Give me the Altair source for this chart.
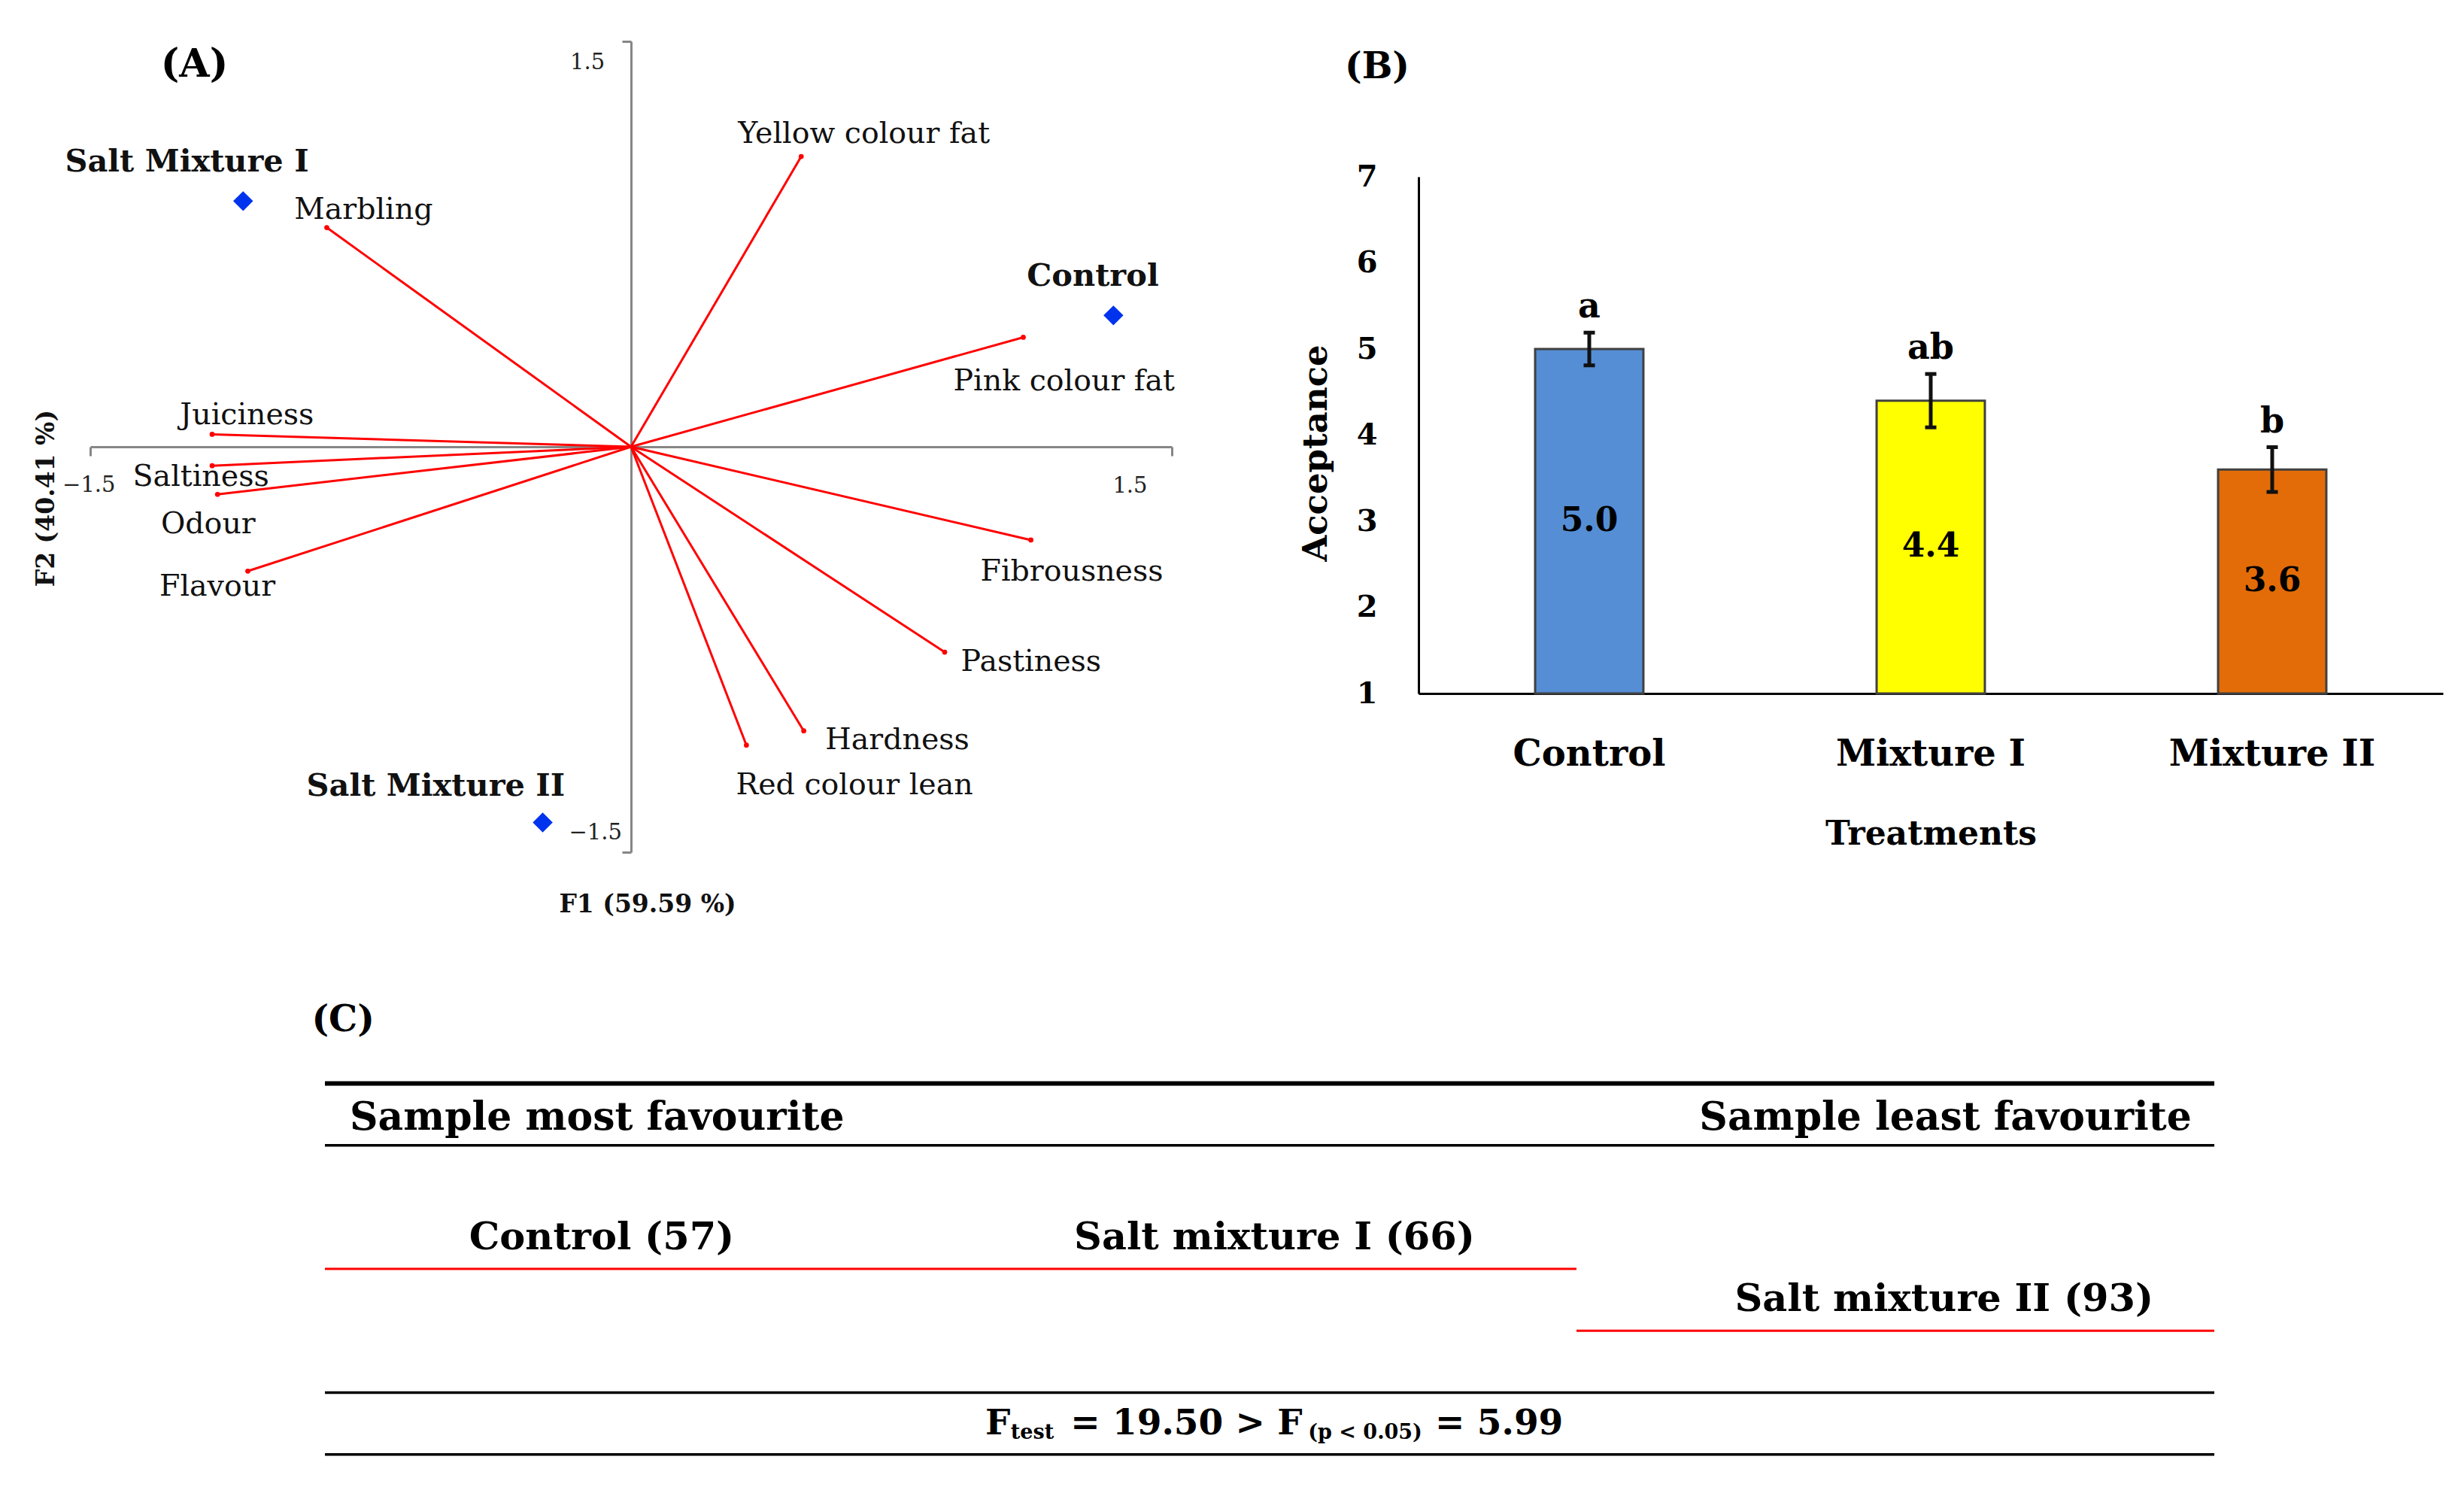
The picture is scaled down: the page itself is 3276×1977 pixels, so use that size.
import altair as alt
import pandas as pd

FONT = "DejaVu Serif"
GREY = "#868686"
INK = "#111111"

# ---------------- Panel A: PCA biplot ----------------
attr_names = ["Marbling", "Yellow colour fat", "Pink colour fat", "Juiciness", "Saltiness",
              "Odour", "Flavour", "Fibrousness", "Pastiness", "Hardness", "Red colour lean"]
attr_f1 = [-0.844, 0.472, 1.088, -1.162, -1.162, -1.147, -1.063, 1.109, 0.870, 0.479, 0.320]
attr_f2 = [0.811, 1.074, 0.405, 0.046, -0.070, -0.176, -0.460, -0.345, -0.760, -1.051, -1.104]
attr_lab_f1 = [-0.934, 0.297, 0.894, -1.251, -1.382, -1.304, -1.308, 0.969, 0.915, 0.539, 0.291]
attr_lab_f2 = [0.877, 1.159, 0.241, 0.116, -0.110, -0.288, -0.519, -0.461, -0.797, -1.085, -1.251]

obs_names = ["Control", "Salt Mixture I", "Salt Mixture II"]
obs_f1 = [1.338, -1.076, -0.245]
obs_f2 = [0.486, 0.909, -1.390]
obs_lab_f1 = [1.098, -1.570, -0.900]
obs_lab_f2 = [0.630, 1.051, -1.257]

tick_text = ["1.5", "\u22121.5", "\u22121.5", "1.5"]
tick_f1 = [-0.169, -0.172, -1.577, 1.336]
tick_f2 = [1.421, -1.429, -0.143, -0.145]

axis_titles = ["F1 (59.59 %)", "F2 (40.41 %)"]
axis_title_f1 = [0.046, -1.622]
axis_title_f2 = [-1.696, -0.191]
axis_title_angle = [0, 270]

panel_a_label, panel_a_f1, panel_a_f2 = "(A)", -1.211, 1.413

# ---------------- Panel B: acceptance bars ----------------
treatments = ["Control", "Mixture I", "Mixture II"]
acceptance = [5.0, 4.4, 3.6]
acc_err = [0.19, 0.31, 0.26]
letters = ["a", "ab", "b"]
bar_colors = ["#558ED5", "#FFFF00", "#E36C09"]
panel_b_label, panel_b_level = "(B)", 8.27

# ---------------- Panel C: ranking table ----------------
rule_black_y = [1, 5, 6]
rule_top_y = [0]
sig_start = [0.0, 0.6624]
sig_end = [0.6624, 1.0]
sig_y = [3, 4]
head_text = ["Sample most favourite", "Sample least favourite"]
head_x = [0.0131, 0.988]
head_align = ["left", "right"]
rank_text = ["Control (57)", "Salt mixture I (66)", "Salt mixture II (93)"]
rank_x = [0.1465, 0.5026, 0.857]
rank_y = [2.5, 2.5, 3.5]
f_main_text = ["F", "= 19.50 > F", "= 5.99"]
f_main_x = [0.3495, 0.3946, 0.5876]
f_sub_text = ["test", "(p < 0.05)"]
f_sub_x = [0.363, 0.5204]
f_row_y = 5.5
panel_c_label, panel_c_x, panel_c_y = "(C)", -0.007, -1.02

A_W, A_H = 1438, 1078
B_W, B_H = 1362, 867
C_LEFT, C_RIGHT = -0.1242, 1.1206
C_W, C_H = int(round((C_RIGHT - C_LEFT) * 2512)), 633


def ax_x(field):
    return alt.X(field, type="quantitative",
                 scale=alt.Scale(domain=[-1.5, 1.5], nice=False, zero=False),
                 axis=alt.Axis(values=[-1.5, 1.5], offset=-A_H / 2, labels=False, title=None,
                               grid=False, domainColor=GREY, domainWidth=3, tickColor=GREY,
                               tickWidth=3, tickSize=12))


def ax_y(field):
    return alt.Y(field, type="quantitative",
                 scale=alt.Scale(domain=[-1.5, 1.5], nice=False, zero=False),
                 axis=alt.Axis(values=[-1.5, 1.5], offset=-A_W / 2, labels=False, title=None,
                               grid=False, domainColor=GREY, domainWidth=3, tickColor=GREY,
                               tickWidth=3, tickSize=12))


attr_df = pd.DataFrame({"name": attr_names, "f1": attr_f1, "f2": attr_f2,
                        "lx": attr_lab_f1, "ly": attr_lab_f2})
obs_df = pd.DataFrame({"name": obs_names, "f1": obs_f1, "f2": obs_f2,
                       "lx": obs_lab_f1, "ly": obs_lab_f2})
tick_df = pd.DataFrame({"t": tick_text, "lx": tick_f1, "ly": tick_f2})
atitle_df = pd.DataFrame({"t": axis_titles, "lx": axis_title_f1, "ly": axis_title_f2,
                          "ang": axis_title_angle})
pa_df = pd.DataFrame({"t": [panel_a_label], "lx": [panel_a_f1], "ly": [panel_a_f2]})

vectors = alt.Chart(attr_df).mark_rule(color="#FF0000", strokeWidth=3).encode(
    x=ax_x("f1"), y=ax_y("f2"), x2=alt.X2Datum(0), y2=alt.Y2Datum(0))
tips = alt.Chart(attr_df).mark_circle(color="#FF0000", size=45, opacity=1).encode(
    x=ax_x("f1"), y=ax_y("f2"))
diamonds = alt.Chart(obs_df).mark_point(shape="diamond", filled=True, size=700,
                                        color="#0033EE", opacity=1).encode(
    x=ax_x("f1"), y=ax_y("f2"))
attr_labels = alt.Chart(attr_df).mark_text(align="left", baseline="middle", font=FONT,
                                           fontSize=39.5, color=INK).encode(
    x=ax_x("lx"), y=ax_y("ly"), text="name:N")
obs_labels = alt.Chart(obs_df).mark_text(align="left", baseline="middle", font=FONT,
                                         fontSize=41.5, fontWeight="bold", color=INK).encode(
    x=ax_x("lx"), y=ax_y("ly"), text="name:N")
tick_labels = alt.Chart(tick_df).mark_text(align="left", baseline="middle", font=FONT,
                                           fontSize=29, color="#222222").encode(
    x=ax_x("lx"), y=ax_y("ly"), text="t:N")
f1_title = alt.Chart(atitle_df[atitle_df.ang == 0]).mark_text(
    align="center", baseline="middle", font=FONT, fontSize=33, fontWeight="bold", color=INK
).encode(x=ax_x("lx"), y=ax_y("ly"), text="t:N")
f2_title = alt.Chart(atitle_df[atitle_df.ang == 270]).mark_text(
    align="center", baseline="middle", font=FONT, fontSize=33, fontWeight="bold", color=INK,
    angle=270
).encode(x=ax_x("lx"), y=ax_y("ly"), text="t:N")
pa_text = alt.Chart(pa_df).mark_text(
    align="center", baseline="middle", font=FONT, fontSize=52, fontWeight="bold", color="black"
).encode(x=ax_x("lx"), y=ax_y("ly"), text="t:N")

panel_a = alt.layer(vectors, tips, diamonds, attr_labels, obs_labels, tick_labels,
                    f1_title, f2_title, pa_text).properties(width=A_W, height=A_H)

# ---------------- Panel B chart ----------------
b_df = pd.DataFrame({"treat": treatments, "acc": acceptance, "err": acc_err, "let": letters})
b_base = alt.Chart(b_df).transform_calculate(
    lo="datum.acc - datum.err", hi="datum.acc + datum.err", mid="(datum.acc + 1) / 2")
pb_df = pd.DataFrame({"treat": [treatments[0]], "lvl": [panel_b_level], "t": [panel_b_label]})

bx = alt.X("treat:N", sort=treatments,
           scale=alt.Scale(paddingInner=0.683, paddingOuter=0.3415),
           axis=alt.Axis(title="Treatments", labelAngle=0, ticks=False, tickSize=0,
                         labelLimit=0,
                         domainColor="black", domainWidth=3, labelFont=FONT, labelFontSize=48,
                         labelFontWeight="bold", labelColor="black", labelPadding=57,
                         titleFont=FONT, titleFontSize=44, titleFontWeight="bold",
                         titleColor="black", titlePadding=60))
by_scale = alt.Scale(domain=[1, 7], range=[B_H, 180], nice=False, zero=False)
by_axis = alt.Axis(values=[1, 2, 3, 4, 5, 6, 7], format="d", title="Acceptance", ticks=False,
                   tickSize=0, grid=False, domainColor="black", domainWidth=3, labelFont=FONT,
                   labelFontSize=40, labelFontWeight="bold", labelColor="black",
                   labelPadding=55, titleFont=FONT, titleFontSize=45, titleFontWeight="bold",
                   titleColor="black", titlePadding=31, titleY=547)

bars = b_base.mark_bar(stroke="#404040", strokeWidth=3).encode(
    x=bx, y=alt.Y("acc:Q", scale=by_scale, axis=by_axis), y2=alt.Y2Datum(1),
    color=alt.Color("treat:N", scale=alt.Scale(domain=treatments, range=bar_colors),
                    legend=None))
err_rule = b_base.mark_rule(color=INK, strokeWidth=5).encode(
    x=bx, y=alt.Y("lo:Q", scale=by_scale, axis=by_axis), y2="hi:Q")
cap_lo = b_base.mark_tick(color=INK, thickness=5, size=15, opacity=1).encode(
    x=bx, y=alt.Y("lo:Q", scale=by_scale, axis=by_axis))
cap_hi = b_base.mark_tick(color=INK, thickness=5, size=15, opacity=1).encode(
    x=bx, y=alt.Y("hi:Q", scale=by_scale, axis=by_axis))
val_text = b_base.mark_text(font=FONT, fontSize=44, fontWeight="bold", color="black",
                            baseline="middle").encode(
    x=bx, y=alt.Y("mid:Q", scale=by_scale, axis=by_axis),
    text=alt.Text("acc:Q", format=".1f"))
let_text = b_base.mark_text(font=FONT, fontSize=46, fontWeight="bold", color="black",
                            baseline="alphabetic", dy=-20).encode(
    x=bx, y=alt.Y("hi:Q", scale=by_scale, axis=by_axis), text="let:N")
pb_text = alt.Chart(pb_df).mark_text(font=FONT, fontSize=48, fontWeight="bold", color="black",
                                     align="left", baseline="middle", dx=-325).encode(
    x=bx, y=alt.Y("lvl:Q", scale=by_scale, axis=by_axis), text="t:N")

panel_b = alt.layer(bars, err_rule, cap_lo, cap_hi, val_text, let_text, pb_text).properties(
    width=B_W, height=B_H)

top_row = alt.hconcat(panel_a, panel_b, spacing=328, bounds="flush").resolve_scale(
    x="independent", y="independent")

# ---------------- Panel C chart ----------------
cx_scale = alt.Scale(domain=[C_LEFT, C_RIGHT], nice=False, zero=False)
cy_scale = alt.Scale(domain=[-1.55, 6.15], nice=False, zero=False, reverse=True)


def cX(field):
    return alt.X(field, type="quantitative", scale=cx_scale, axis=None)


def cY(field):
    return alt.Y(field, type="quantitative", scale=cy_scale, axis=None)


top_rule_df = pd.DataFrame({"x0": [0.0] * len(rule_top_y), "x1": [1.0] * len(rule_top_y),
                            "y": rule_top_y})
black_rule_df = pd.DataFrame({"x0": [0.0] * len(rule_black_y), "x1": [1.0] * len(rule_black_y),
                              "y": rule_black_y})
sig_df = pd.DataFrame({"x0": sig_start, "x1": sig_end, "y": sig_y})
head_df = pd.DataFrame({"t": head_text, "x": head_x, "a": head_align, "y": [0.55, 0.55]})
rank_df = pd.DataFrame({"t": rank_text, "x": rank_x, "y": rank_y})
fmain_df = pd.DataFrame({"t": f_main_text, "x": f_main_x, "y": [f_row_y] * 3})
fsub_df = pd.DataFrame({"t": f_sub_text, "x": f_sub_x, "y": [f_row_y] * 2})
pc_df = pd.DataFrame({"t": [panel_c_label], "x": [panel_c_x], "y": [panel_c_y]})

c_top = alt.Chart(top_rule_df).mark_rule(color="black", strokeWidth=6).encode(
    x=cX("x0"), x2="x1:Q", y=cY("y"))
c_black = alt.Chart(black_rule_df).mark_rule(color="black", strokeWidth=3.5).encode(
    x=cX("x0"), x2="x1:Q", y=cY("y"))
c_sig = alt.Chart(sig_df).mark_rule(color="#FF0000", strokeWidth=3).encode(
    x=cX("x0"), x2="x1:Q", y=cY("y"))
c_head_l = alt.Chart(head_df[head_df.a == "left"]).mark_text(
    align="left", baseline="middle", font=FONT, fontSize=52, fontWeight="bold", color="black"
).encode(x=cX("x"), y=cY("y"), text="t:N")
c_head_r = alt.Chart(head_df[head_df.a == "right"]).mark_text(
    align="right", baseline="middle", font=FONT, fontSize=52, fontWeight="bold", color="black"
).encode(x=cX("x"), y=cY("y"), text="t:N")
c_rank = alt.Chart(rank_df).mark_text(
    align="center", baseline="middle", font=FONT, fontSize=51, fontWeight="bold", color="black"
).encode(x=cX("x"), y=cY("y"), text="t:N")
c_fmain = alt.Chart(fmain_df).mark_text(
    align="left", baseline="middle", font=FONT, fontSize=47, fontWeight="bold", color="black"
).encode(x=cX("x"), y=cY("y"), text="t:N")
c_fsub = alt.Chart(fsub_df).mark_text(
    align="left", baseline="middle", font=FONT, fontSize=27, fontWeight="bold", color="black",
    dy=12
).encode(x=cX("x"), y=cY("y"), text="t:N")
c_panel = alt.Chart(pc_df).mark_text(
    align="left", baseline="middle", font=FONT, fontSize=48, fontWeight="bold", color="black"
).encode(x=cX("x"), y=cY("y"), text="t:N")

panel_c = alt.layer(c_top, c_black, c_sig, c_head_l, c_head_r, c_rank, c_fmain,
                    c_fsub, c_panel).properties(width=C_W, height=C_H)

chart = alt.vconcat(top_row, panel_c, spacing=92).resolve_scale(
    x="independent", y="independent"
).properties(
    padding={"left": 37, "top": 45, "right": 5, "bottom": 5},
    background="white",
).configure_view(stroke=None)

chart.save("out.html", embed_options={"renderer": "svg", "actions": False})
